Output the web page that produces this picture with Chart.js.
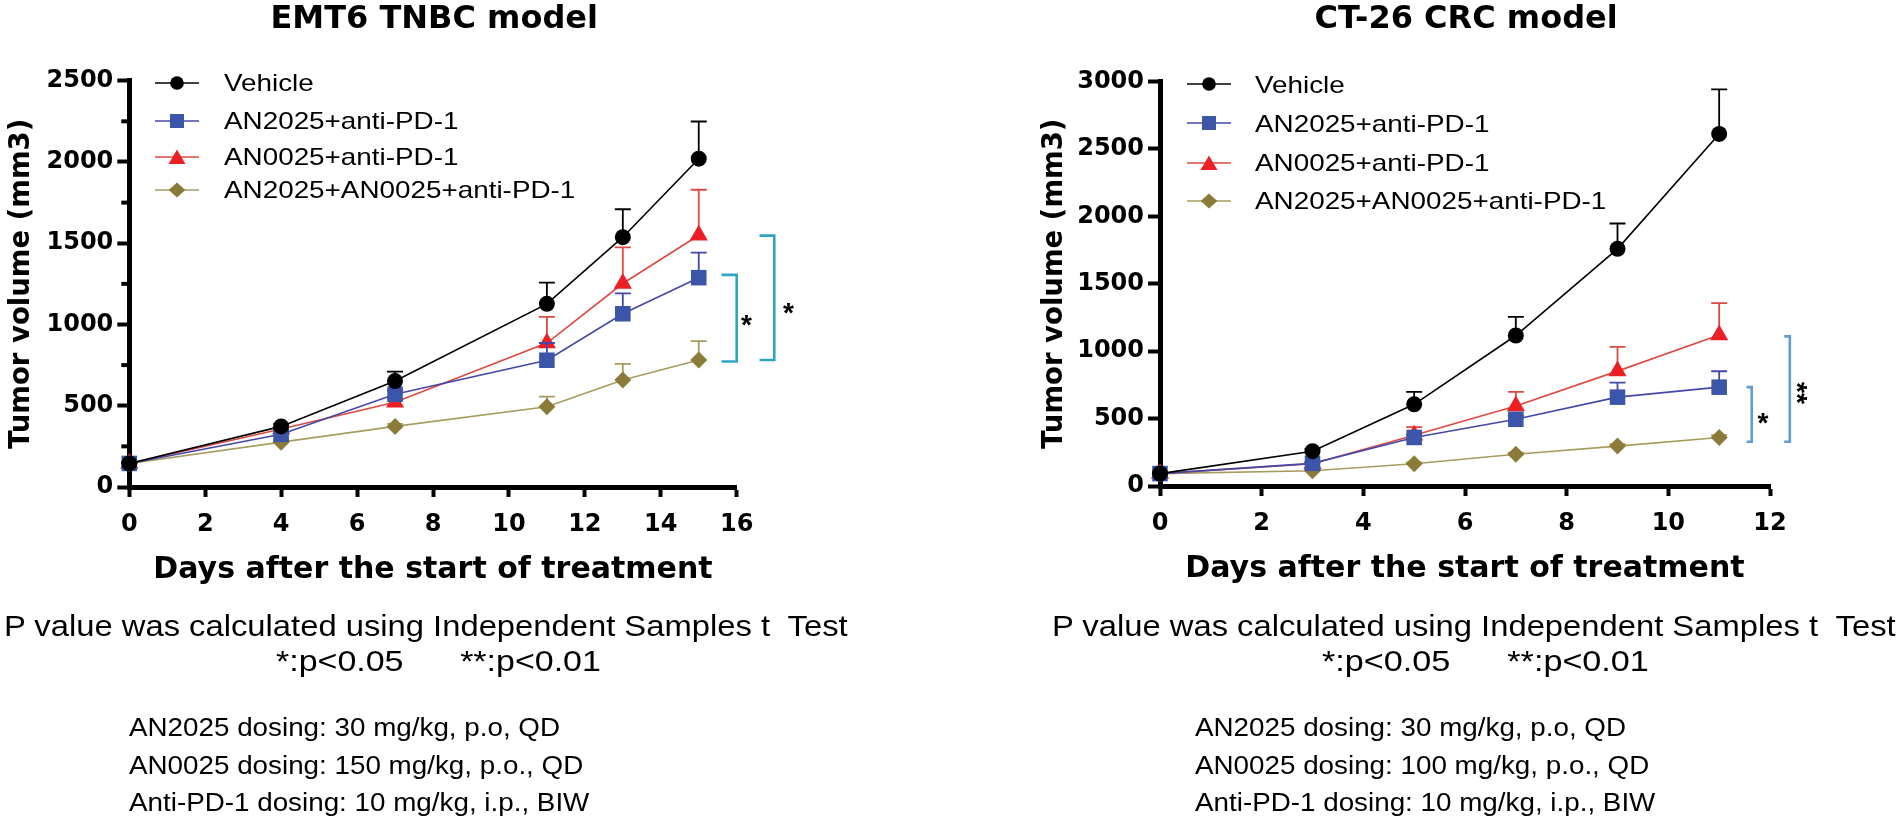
<!DOCTYPE html>
<html>
<head>
<meta charset="utf-8">
<script src="https://cdn.jsdelivr.net/npm/chart.js@4.4.1/dist/chart.umd.min.js"></script>
<style>
html,body{margin:0;padding:0;background:#fff;}
#page{position:relative;width:1901px;height:819px;overflow:hidden;background:#fff;}
canvas.cv{position:absolute;top:0;}
.t{position:absolute;white-space:pre;line-height:1;transform-origin:0 0;color:#000;margin:0;}
.title{font-family:'DejaVu Sans',sans-serif;font-weight:bold;font-size:32px;}
.note{font-family:'Liberation Sans',Arial,sans-serif;font-size:30px;}
.dose{font-family:'Liberation Sans',Arial,sans-serif;font-size:25.6px;}
.leg{font-family:'Liberation Sans',Arial,sans-serif;font-size:24px;}
svg.lg{position:absolute;overflow:visible;}
</style>
</head>
<body>
<div id="page">
  <canvas id="cL" class="cv" width="950" height="819" style="left:0px"></canvas>
  <canvas id="cR" class="cv" width="951" height="819" style="left:950px"></canvas>

  <div class="t title" data-c="434" data-b="28">EMT6 TNBC model</div>
  <div class="t title" data-c="1466" data-b="28">CT-26 CRC model</div>

  <div class="t note" data-l="4" data-w="844" data-b="636.7">P value was calculated using Independent Samples t  Test</div>
  <div class="t note" data-l="276" data-w="325" data-b="671.7">*:p&lt;0.05      **:p&lt;0.01</div>
  <div class="t dose" data-l="129.3" data-s="1.086" data-b="737">AN2025 dosing: 30 mg/kg, p.o, QD</div>
  <div class="t dose" data-l="129.3" data-s="1.086" data-b="774.5">AN0025 dosing: 150 mg/kg, p.o., QD</div>
  <div class="t dose" data-l="129.3" data-s="1.086" data-b="812">Anti-PD-1 dosing: 10 mg/kg, i.p., BIW</div>

  <div class="t note" data-l="1052" data-w="844" data-b="636.7">P value was calculated using Independent Samples t  Test</div>
  <div class="t note" data-l="1322" data-w="327" data-b="671.7">*:p&lt;0.05      **:p&lt;0.01</div>
  <div class="t dose" data-l="1195" data-s="1.086" data-b="737">AN2025 dosing: 30 mg/kg, p.o, QD</div>
  <div class="t dose" data-l="1195" data-s="1.086" data-b="774.5">AN0025 dosing: 100 mg/kg, p.o., QD</div>
  <div class="t dose" data-l="1195" data-s="1.086" data-b="812">Anti-PD-1 dosing: 10 mg/kg, i.p., BIW</div>
</div>

<script>
// ---------------- DATA ----------------
const seriesNames = ['Vehicle', 'AN2025+anti-PD-1', 'AN0025+anti-PD-1', 'AN2025+AN0025+anti-PD-1'];

// EMT6 TNBC model
const emt6Days = [0, 4, 7, 11, 13, 15];
const emt6Vehicle    = [145, 373, 652, 1127, 1537, 2020];
const emt6VehicleSem = [8, 15, 58, 130, 172, 229];
const emt6A2025      = [145, 324, 571, 780, 1066, 1288];
const emt6A2025Sem   = [8, 12, 22, 106, 126, 154];
const emt6A0025      = [145, 357, 522, 886, 1252, 1549];
const emt6A0025Sem   = [8, 12, 20, 161, 222, 280];
const emt6Combo      = [145, 276, 373, 494, 658, 781];
const emt6ComboSem   = [8, 12, 15, 62, 99, 117];
const emt6XTicks = [0, 2, 4, 6, 8, 10, 12, 14, 16];
const emt6YTicks = [0, 500, 1000, 1500, 2000, 2500];
const emt6YMinor = [250, 750, 1250, 1750, 2250];
const emt6SigTop    = [1305, 1547];
const emt6SigBottom = [772, 781];
const emt6SigLabel  = ['*', '*'];

// CT-26 CRC model
const ct26Days = [0, 3, 5, 7, 9, 11];
const ct26Vehicle    = [92, 258, 606, 1116, 1759, 2611];
const ct26VehicleSem = [8, 15, 92, 138, 188, 331];
const ct26A2025      = [92, 168, 360, 495, 659, 733];
const ct26A2025Sem   = [6, 10, 20, 25, 108, 118];
const ct26A0025      = [92, 165, 376, 593, 852, 1120];
const ct26A0025Sem   = [6, 10, 61, 105, 180, 237];
const ct26Combo      = [92, 113, 165, 235, 296, 360];
const ct26ComboSem   = [5, 8, 10, 12, 15, 18];
const ct26XTicks = [0, 2, 4, 6, 8, 10, 12];
const ct26YTicks = [0, 500, 1000, 1500, 2000, 2500, 3000];
const ct26SigTop    = [733, 1110];
const ct26SigBottom = [328, 328];
const ct26SigLabel  = ['*', '**'];

// ---------------- STYLES ----------------
const styles = [
  {line: '#000000', fill: '#000000', pointStyle: 'circle',   r: 8},
  {line: '#4348A8', fill: '#3B55A9', pointStyle: 'rect',     r: 11},
  {line: '#DC4A41', fill: '#EC1F25', pointStyle: 'triangle', r: 10.5},
  {line: '#A79B5F', fill: '#8B7B38', pointStyle: 'rectRot',  r: 8.5}
];

// ---------------- TEXT PLACEMENT ----------------
document.querySelectorAll('.t').forEach(el => {
  const fs = parseFloat(getComputedStyle(el).fontSize);
  const nat = el.offsetWidth;
  let w = nat;
  if (el.dataset.w) w = parseFloat(el.dataset.w);
  else if (el.dataset.s) w = nat * parseFloat(el.dataset.s);
  const s = w / nat;
  const left = (el.dataset.l !== undefined) ? parseFloat(el.dataset.l) : parseFloat(el.dataset.c) - w / 2;
  el.style.left = left + 'px';
  el.style.top = (parseFloat(el.dataset.b) - 0.846 * fs) + 'px';
  el.style.transform = 'scaleX(' + s + ')';
});

// ---------------- LEGENDS (HTML) ----------------
function markerSvg(k) {
  const st = styles[k];
  let m = '';
  if (st.pointStyle === 'circle') m = `<circle cx="22" cy="12" r="6.8" fill="${st.fill}"/>`;
  else if (st.pointStyle === 'rect') m = `<rect x="15" y="5" width="14" height="14" fill="${st.fill}"/>`;
  else if (st.pointStyle === 'triangle') m = `<polygon points="22,4.5 30.5,19 13.5,19" fill="${st.fill}"/>`;
  else m = `<polygon points="22,4.5 30.3,12 22,19.5 13.7,12" fill="${st.fill}"/>`;
  return `<line x1="0" y1="12" x2="44" y2="12" stroke="${st.line}" stroke-width="1.6"/>` + m;
}
function buildLegend(lineX, textX, rows) {
  const page = document.getElementById('page');
  const fs = 24;
  seriesNames.forEach((name, k) => {
    const svg = document.createElementNS('http://www.w3.org/2000/svg', 'svg');
    svg.setAttribute('class', 'lg');
    svg.setAttribute('width', '44'); svg.setAttribute('height', '24');
    svg.style.left = lineX + 'px'; svg.style.top = (rows[k] - 12) + 'px';
    svg.innerHTML = markerSvg(k);
    page.appendChild(svg);
    const d = document.createElement('div');
    d.className = 't leg';
    d.textContent = name;
    page.appendChild(d);
    d.style.left = textX + 'px';
    d.style.top = (rows[k] + 0.358 * fs - 0.846 * fs) + 'px';
    d.style.transform = 'scaleX(1.16)';
  });
}
buildLegend(155, 224, [82.7, 121, 156.7, 189.8]);
buildLegend(1187, 1255, [84.3, 123.3, 162.6, 200.9]);

// ---------------- CHART.JS ----------------
function buildDatasets(days, values, sems) {
  return values.map((vals, k) => ({
    label: seriesNames[k],
    data: days.map((d, i) => ({x: d, y: vals[i]})),
    sem: sems[k],
    errColor: styles[k].line,
    borderColor: styles[k].line,
    borderWidth: 1.6,
    backgroundColor: styles[k].fill,
    pointBackgroundColor: styles[k].fill,
    pointBorderColor: styles[k].fill,
    pointBorderWidth: 0,
    pointStyle: styles[k].pointStyle,
    pointRadius: styles[k].r,
    pointHoverRadius: styles[k].r,
    tension: 0,
    clip: false
  }));
}

const errorBarPlugin = {
  id: 'errbars',
  beforeDatasetDraw(chart, args) {
    const ds = chart.data.datasets[args.index];
    if (!ds.sem) return;
    const xs = chart.scales.x, ys = chart.scales.y, ctx = chart.ctx;
    ctx.save();
    ctx.strokeStyle = ds.errColor;
    ctx.lineWidth = 1.8;
    ds.data.forEach((p, i) => {
      const x = xs.getPixelForValue(p.x);
      const y0 = ys.getPixelForValue(p.y);
      const y1 = ys.getPixelForValue(p.y + ds.sem[i]);
      ctx.beginPath();
      ctx.moveTo(x, y0); ctx.lineTo(x, y1);
      ctx.moveTo(x - 8, y1); ctx.lineTo(x + 8, y1);
      ctx.stroke();
    });
    ctx.restore();
  }
};

function makeAnnot(cfg) {
  return {
    id: 'annot_' + cfg.name,
    beforeDatasetsDraw(chart) {
      if (!cfg.minor) return;
      const ctx = chart.ctx, ys = chart.scales.y, left = chart.chartArea.left;
      ctx.save();
      ctx.strokeStyle = '#000'; ctx.lineWidth = 4;
      cfg.minor.forEach(v => {
        const y = ys.getPixelForValue(v);
        ctx.beginPath(); ctx.moveTo(left - 8, y); ctx.lineTo(left, y); ctx.stroke();
      });
      ctx.restore();
    },
    afterDraw(chart) {
      const ctx = chart.ctx, xs = chart.scales.x, ys = chart.scales.y;
      ctx.save();
      cfg.brackets.forEach((b, i) => {
        const xa = xs.getPixelForValue(b.xArm), xb = xs.getPixelForValue(b.xBar);
        const yt = ys.getPixelForValue(cfg.top[i]), yb = ys.getPixelForValue(cfg.bottom[i]);
        ctx.strokeStyle = cfg.color; ctx.lineWidth = 2.6; ctx.lineJoin = 'miter'; ctx.lineCap = 'butt';
        ctx.beginPath();
        ctx.moveTo(xa, yt); ctx.lineTo(xb, yt); ctx.lineTo(xb, yb); ctx.lineTo(xa, yb);
        ctx.stroke();
        const fs = 28;
        ctx.fillStyle = '#000';
        ctx.font = 'bold ' + fs + 'px "Liberation Sans", Arial, sans-serif';
        ctx.textAlign = 'center'; ctx.textBaseline = 'alphabetic';
        const lx = xs.getPixelForValue(b.xLabel), ly = ys.getPixelForValue(b.yLabel);
        if (b.rotate) {
          ctx.save(); ctx.translate(lx, ly); ctx.rotate(Math.PI / 2);
          ctx.fillText(cfg.labels[i], 0, 0.56 * fs);
          ctx.restore();
        } else {
          ctx.fillText(cfg.labels[i], lx, ly + 0.56 * fs);
        }
      });
      ctx.restore();
    }
  };
}

function makeScales(o) {
  const tickFont = {family: 'DejaVu Sans', weight: 'bold', size: 24};
  return {
    x: {
      type: 'linear', min: o.xTicks[0], max: o.xTicks[o.xTicks.length - 1],
      afterBuildTicks: s => { s.ticks = o.xTicks.map(v => ({value: v})); },
      afterFit: s => { s.height = 110; },
      ticks: {autoSkip: false, maxRotation: 0, minRotation: 0, padding: 13, color: '#000', font: tickFont, callback: v => String(v)},
      grid: {display: true, drawOnChartArea: false, drawTicks: true, tickLength: 10, tickWidth: 4, tickColor: '#000'},
      border: {display: true, width: 5, color: '#000'},
      title: {display: true, text: 'Days after the start of treatment', color: '#000',
              font: {family: 'DejaVu Sans', weight: 'bold', size: 30}, padding: {top: 0, bottom: 9}}
    },
    y: {
      type: 'linear', min: o.yTicks[0], max: o.yTicks[o.yTicks.length - 1],
      afterBuildTicks: s => { s.ticks = o.yTicks.map(v => ({value: v})); },
      afterFit: s => { s.width = o.yWidth; },
      ticks: {autoSkip: false, padding: 4, color: '#000', font: tickFont, callback: v => String(v)},
      grid: {display: true, drawOnChartArea: false, drawTicks: true, tickLength: 12, tickWidth: 4, tickColor: '#000'},
      border: {display: true, width: 5, color: '#000'},
      title: {display: true, text: 'Tumor volume (mm3)', color: '#000',
              font: {family: 'DejaVu Sans', weight: 'bold', size: 27.5}, padding: {top: o.yTitlePad, bottom: 0}}
    }
  };
}

function makeChart(id, datasets, scaleOpts, padding, annot) {
  return new Chart(document.getElementById(id), {
    type: 'line',
    data: {datasets},
    options: {
      responsive: false, devicePixelRatio: 1, animation: false, events: [],
      layout: {padding},
      scales: makeScales(scaleOpts),
      plugins: {legend: {display: false}, tooltip: {enabled: false}, title: {display: false}}
    },
    plugins: [errorBarPlugin, makeAnnot(annot)]
  });
}

makeChart('cL',
  buildDatasets(emt6Days, [emt6Vehicle, emt6A2025, emt6A0025, emt6Combo],
                [emt6VehicleSem, emt6A2025Sem, emt6A0025Sem, emt6ComboSem]),
  {xTicks: emt6XTicks, yTicks: emt6YTicks, yWidth: 129.3, yTitlePad: 5},
  {left: 0, top: 80.7, right: 213.3, bottom: 222},
  {name: 'L', minor: emt6YMinor, color: '#2EA6C3', top: emt6SigTop, bottom: emt6SigBottom, labels: emt6SigLabel,
   brackets: [{xArm: 15.6, xBar: 16.0, xLabel: 16.26, yLabel: 1040},
              {xArm: 16.6, xBar: 16.99, xLabel: 17.36, yLabel: 1109}]}
);

makeChart('cR',
  buildDatasets(ct26Days, [ct26Vehicle, ct26A2025, ct26A0025, ct26Combo],
                [ct26VehicleSem, ct26A2025Sem, ct26A0025Sem, ct26ComboSem]),
  {xTicks: ct26XTicks, yTicks: ct26YTicks, yWidth: 129, yTitlePad: 7},
  {left: 81, top: 81.5, right: 131, bottom: 223},
  {name: 'R', minor: null, color: '#5E9CD6', top: ct26SigTop, bottom: ct26SigBottom, labels: ct26SigLabel,
   brackets: [{xArm: 11.54, xBar: 11.64, xLabel: 11.86, yLabel: 514},
              {xArm: 12.28, xBar: 12.39, xLabel: 12.67, yLabel: 690, rotate: true}]}
);
</script>
</body>
</html>
